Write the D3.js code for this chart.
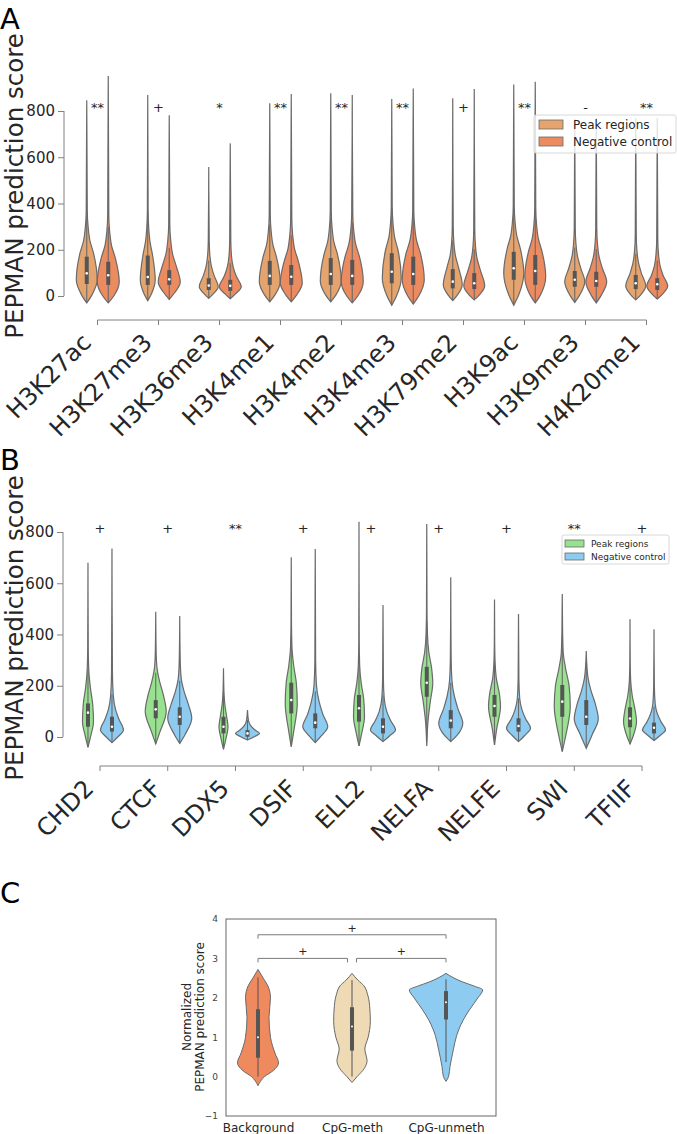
<!DOCTYPE html>
<html><head><meta charset="utf-8">
<script src="https://cdn.jsdelivr.net/npm/d3@7"></script>
<style>body{margin:0;background:#fff} svg{display:block;font-family:"DejaVu Sans",sans-serif}</style>
</head><body><svg id="c" width="677" height="1134"></svg>
<script>
// ---------------- DATA ----------------
// Panel A: histone marks
const marksA = ["H3K27ac","H3K27me3","H3K36me3","H3K4me1","H3K4me2","H3K4me3","H3K79me2","H3K9ac","H3K9me3","H4K20me1"];
const groupsA = ["Peak regions","Negative control"];
const sigA = ["**","+","*","**","**","**","+","**","-","**"];
const yTicksA = [0,200,400,600,800];
// density knots [score, relative width]
const peakKnotsA = [
  [[-30,0],[5,0.5],[70,1],[185,0.65],[240,0.3],[300,0.13],[370,0.05],[847,0]],
  [[-20,0],[10,0.5],[70,1],[175,0.65],[235,0.3],[295,0.13],[370,0.05],[869,0]],
  [[-10,0],[10,0.5],[40,1],[90,0.55],[130,0.27],[175,0.12],[240,0.05],[558,0]],
  [[-25,0],[5,0.5],[62,1],[167,0.65],[222,0.3],[282,0.13],[350,0.05],[833,0]],
  [[-25,0],[5,0.5],[65,1],[179,0.65],[234,0.3],[294,0.13],[365,0.05],[877,0]],
  [[-40,0],[0,0.5],[78,1],[200,0.65],[255,0.3],[315,0.13],[385,0.05],[852,0]],
  [[-20,0],[5,0.5],[48,1],[125,0.6],[175,0.28],[230,0.12],[300,0.05],[855,0]],
  [[-40,0],[5,0.5],[98,1],[206,0.65],[261,0.3],[321,0.13],[390,0.05],[915,0]],
  [[-28,0],[5,0.5],[62,1],[120,0.6],[170,0.28],[225,0.12],[295,0.05],[765,0]],
  [[-17,0],[5,0.5],[43,1],[100,0.55],[145,0.27],[195,0.12],[265,0.05],[770,0]]
];
const negKnotsA = [
  [[-30,0],[0,0.5],[62,1],[163,0.65],[218,0.3],[278,0.13],[350,0.05],[951,0]],
  [[-15,0],[15,0.5],[60,1],[127,0.65],[182,0.3],[242,0.13],[310,0.05],[782,0]],
  [[-12,0],[10,0.5],[40,1],[85,0.55],[125,0.27],[170,0.12],[240,0.05],[660,0]],
  [[-25,0],[5,0.5],[55,1],[149,0.65],[204,0.3],[264,0.13],[335,0.05],[874,0]],
  [[-30,0],[0,0.5],[62,1],[171,0.65],[226,0.3],[286,0.13],[355,0.05],[869,0]],
  [[-35,0],[0,0.5],[70,1],[185,0.65],[240,0.3],[300,0.13],[370,0.05],[897,0]],
  [[-17,0],[5,0.5],[43,1],[110,0.6],[160,0.28],[215,0.12],[290,0.05],[895,0]],
  [[-30,0],[5,0.5],[84,1],[192,0.65],[247,0.3],[307,0.13],[380,0.05],[926,0]],
  [[-30,0],[5,0.5],[62,1],[118,0.6],[168,0.28],[223,0.12],[295,0.05],[770,0]],
  [[-13,0],[8,0.5],[43,1],[90,0.55],[130,0.27],[180,0.12],[250,0.05],[770,0]]
];
// [q1, median, q3]
const peakBoxA = [[52,98,170],[48,82,175],[26,45,77],[48,87,152],[48,95,164],[55,105,185],[33,62,116],[70,120,191],[40,70,108],[30,55,91]];
const negBoxA  = [[48,90,148],[48,72,112],[22,44,70],[48,83,134],[48,87,156],[48,95,170],[30,55,99],[48,108,177],[40,65,105],[26,51,77]];
// relative maximum width of each violin
const peakWidthA = [0.95,0.68,0.86,0.95,0.95,0.86,0.86,0.91,0.91,0.91];
const negWidthA  = [1,1,1,1,1,1,0.95,0.95,0.95,0.95];

// Panel B: transcription-related factors
const factorsB = ["CHD2","CTCF","DDX5","DSIF","ELL2","NELFA","NELFE","SWI","TFIIF"];
const groupsB = ["Peak regions","Negative control"];
const sigB = ["+","+","**","+","+","+","+","**","+"];
const yTicksB = [0,200,400,600,800];
const peakKnotsB = [
  [[-40,0],[0,0.45],[60,1],[130,0.85],[190,0.45],[260,0.15],[350,0.05],[680,0]],
  [[-27,0],[20,0.4],[100,1],[160,0.75],[220,0.35],[270,0.12],[330,0.04],[489,0]],
  [[-48,0],[-10,0.5],[40,1],[80,0.7],[120,0.35],[170,0.12],[268,0]],
  [[-38,0],[20,0.4],[130,1],[210,0.85],[280,0.4],[350,0.12],[450,0.04],[701,0]],
  [[-35,0],[10,0.45],[80,1],[150,0.85],[210,0.4],[280,0.12],[380,0.04],[840,0]],
  [[-35,0],[60,0.2],[140,0.6],[210,1],[270,0.8],[330,0.35],[400,0.12],[500,0.04],[831,0]],
  [[-31,0],[30,0.35],[120,1],[170,0.8],[230,0.3],[290,0.1],[370,0.03],[537,0]],
  [[-57,0],[0,0.4],[120,1],[200,0.85],[270,0.4],[330,0.12],[420,0.04],[558,0]],
  [[-27,0],[5,0.5],[60,1],[110,0.75],[160,0.35],[220,0.1],[300,0.03],[460,0]]
];
const negKnotsB = [
  [[-22,0],[0,0.5],[27,1],[70,0.6],[110,0.3],[160,0.12],[250,0.04],[736,0]],
  [[-25,0],[10,0.45],[73,1],[130,0.7],[180,0.35],[230,0.12],[300,0.04],[472,0]],
  [[-12,0],[2,0.6],[14,1],[28,0.6],[45,0.25],[65,0.08],[105,0]],
  [[-22,0],[5,0.5],[40,1],[90,0.6],[140,0.3],[200,0.1],[300,0.03],[734,0]],
  [[-18,0],[3,0.5],[27,1],[65,0.6],[100,0.3],[150,0.1],[230,0.03],[515,0]],
  [[-18,0],[5,0.5],[53,1],[110,0.6],[160,0.3],[220,0.1],[320,0.03],[623,0]],
  [[-18,0],[5,0.5],[34,1],[70,0.6],[105,0.3],[150,0.1],[230,0.03],[480,0]],
  [[-44,0],[10,0.5],[70,1],[130,0.75],[180,0.4],[230,0.15],[280,0.05],[336,0]],
  [[-14,0],[5,0.5],[27,1],[60,0.6],[90,0.3],[130,0.1],[200,0.03],[420,0]]
];
const peakBoxB = [[40,95,131],[73,108,144],[14,40,79],[92,144,212],[60,112,164],[157,212,274],[79,121,164],[79,138,203],[38,72,116]];
const negBoxB  = [[21,40,79],[47,79,116],[1,14,27],[34,56,92],[14,40,73],[34,64,105],[21,43,73],[47,79,144],[14,36,56]];
const peakWidthB = [0.44,0.84,0.36,0.48,0.44,0.48,0.48,0.64,0.52];
const negWidthB  = [0.92,0.96,0.96,1,1,0.96,0.96,0.96,0.92];

// Panel C: CpG methylation
const categoriesC = ["Background","CpG-meth","CpG-unmeth"];
const yTicksC = [-1,0,1,2,3,4];
const knotsC = [
  [[-0.23,0],[0.0,0.18],[0.15,0.41],[0.35,0.56],[0.6,0.46],[1.0,0.34],[1.5,0.30],[2.0,0.34],[2.3,0.27],[2.5,0.14],[2.72,0]],
  [[-0.15,0],[0.0,0.14],[0.2,0.33],[0.4,0.41],[0.7,0.35],[1.0,0.44],[1.4,0.50],[1.8,0.48],[2.1,0.42],[2.3,0.33],[2.45,0.16],[2.62,0]],
  [[-0.12,0],[0.0,0.07],[0.26,0.11],[0.68,0.20],[1.04,0.29],[1.42,0.46],[1.71,0.65],[2.0,0.87],[2.2,1],[2.3,0.76],[2.4,0.46],[2.5,0.22],[2.62,0]]
];
const boxC = [[0.48,1.0,1.71],[0.66,1.27,1.76],[1.45,1.89,2.17]];
const dataRangeC = [[0.0,2.52],[0.0,2.45],[0.3,2.47]];
const bracketsC = [[0,2,3.6,"+"],[0,1,3.0,"+"],[1,2,3.0,"+"]];

// ---------------- STYLE ----------------
const colorsA = ["#E5A46E","#EC8A60"];
const colorsB = ["#97E18F","#8DCBF0"];
const colorsC = ["#EE8A5E","#EEDAB5","#8DCBF0"];
const outline = "#6a6a6a", boxCol = "#555", spineCol = "#808080", textCol = "#262626";
const sigLevel = 795;

const svg = d3.select("#c");

function violin(g, knots, box, cx, halfW, y, fill, opts) {
  const area = d3.area().curve(d3.curveMonotoneY)
    .y(d => y(d[0])).x0(d => cx - d[1]*halfW).x1(d => cx + d[1]*halfW);
  g.append("path").attr("d", area(knots)).attr("fill", fill)
    .attr("stroke", outline).attr("stroke-width", opts.sw);
  const [q1, med, q3] = box, iqr = q3 - q1;
  const lo = Math.max(opts.min, q1 - 1.5*iqr), hi = Math.min(opts.max, q3 + 1.5*iqr);
  g.append("line").attr("x1", cx).attr("x2", cx).attr("y1", y(lo)).attr("y2", y(hi))
    .attr("stroke", opts.wc).attr("stroke-width", opts.ww);
  g.append("rect").attr("x", cx - opts.bw/2).attr("width", opts.bw)
    .attr("y", y(q3)).attr("height", y(q1) - y(q3)).attr("fill", boxCol);
  g.append("circle").attr("cx", cx).attr("cy", y(med)).attr("r", opts.mr).attr("fill", "#fff");
}

function violinPanel(cfg) {
  const g = svg.append("g");
  const y = d3.scaleLinear().domain([0, 800]).range(cfg.yRange);
  const x = d3.scaleBand().domain(cfg.cats).range(cfg.xRange);
  const hue = d3.scaleBand().domain(cfg.groups).range([-cfg.hueHalf, cfg.hueHalf]);
  const wScale = d3.scaleLinear().domain([0, 1]).range([0, cfg.maxHalf]);
  const center = c => x(c) + x.bandwidth()/2;

  cfg.cats.forEach((c, i) => {
    [[cfg.peakKnots, cfg.peakBox, cfg.peakWidth], [cfg.negKnots, cfg.negBox, cfg.negWidth]].forEach((s, h) => {
      const knots = s[0][i];
      const cx = center(c) + hue(cfg.groups[h]) + hue.bandwidth()/2;
      violin(g, knots, s[1][i], cx, wScale(s[2][i]), y, cfg.colors[h],
        {sw: 1.2, ww: 1.1, wc: outline, bw: 4, mr: 1.3, min: knots[0][0], max: knots[knots.length-1][0]});
    });
  });

  // significance marks
  g.selectAll("text.sig").data(cfg.sig).join("text").attr("class", "sig")
    .attr("x", (d, i) => center(cfg.cats[i])).attr("y", y(sigLevel))
    .attr("text-anchor", "middle").attr("font-size", 13).attr("fill", textCol).text(d => d);

  // y axis
  const ya = g.append("g").attr("transform", `translate(${cfg.yAxisX},0)`)
    .call(d3.axisLeft(y).tickValues(cfg.yTicks).tickSize(6).tickPadding(3));
  ya.select(".domain").remove();
  ya.append("line").attr("y1", y(cfg.yTicks[0])).attr("y2", y(cfg.yTicks[cfg.yTicks.length-1]))
    .attr("stroke", spineCol);
  ya.selectAll(".tick line").attr("stroke", spineCol);
  ya.selectAll(".tick text").attr("font-size", 15).attr("fill", textCol).attr("font-family", "DejaVu Sans");

  // x axis
  const xa = g.append("g").attr("transform", `translate(0,${cfg.xAxisY})`)
    .call(d3.axisBottom(x).tickSize(5));
  xa.select(".domain").remove();
  xa.append("line").attr("x1", center(cfg.cats[0])).attr("x2", center(cfg.cats[cfg.cats.length-1]))
    .attr("stroke", spineCol);
  xa.selectAll(".tick line").attr("stroke", spineCol);
  xa.selectAll(".tick text").attr("x", 0).attr("y", 0).attr("dy", null)
    .attr("text-anchor", "end").attr("transform", "translate(-5,24) rotate(-45)")
    .attr("font-size", 24).attr("fill", textCol).attr("font-family", "DejaVu Sans");

  // y label
  g.append("text").attr("transform", `translate(23,${cfg.yLabelY}) rotate(-90)`)
    .attr("text-anchor", "middle").attr("font-size", 24.5).attr("fill", textCol)
    .text("PEPMAN prediction score");

  // legend
  const L = cfg.legend;
  const lg = g.append("g").attr("transform", `translate(${L.x},${L.y})`);
  lg.append("rect").attr("width", L.w).attr("height", L.h).attr("rx", 2)
    .attr("fill", "#fff").attr("fill-opacity", 0.8).attr("stroke", "#d8d8d8");
  cfg.groups.forEach((gr, h) => {
    lg.append("rect").attr("x", L.px).attr("y", L.py + h*L.row).attr("width", L.pw).attr("height", L.ph)
      .attr("fill", cfg.colors[h]).attr("stroke", outline).attr("stroke-width", 0.8);
    lg.append("text").attr("x", L.tx).attr("y", L.py + h*L.row + L.ph/2).attr("dy", "0.35em")
      .attr("font-size", L.fs).attr("fill", textCol).text(gr);
  });

  // panel letter
  svg.append("text").attr("x", 0).attr("y", cfg.letterY).attr("font-size", 29).attr("fill", "#000").text(cfg.letter);
}

violinPanel({
  letter: "A", letterY: 29,
  cats: marksA, groups: groupsA, sig: sigA, yTicks: yTicksA, colors: colorsA,
  peakKnots: peakKnotsA, negKnots: negKnotsA, peakBox: peakBoxA, negBox: negBoxA,
  peakWidth: peakWidthA, negWidth: negWidthA,
  yRange: [296, 111], xRange: [67, 677], hueHalf: 21.5, maxHalf: 11,
  yAxisX: 64, xAxisY: 320, yLabelY: 186,
  legend: {x: 534, y: 115, w: 142, h: 38, px: 5, py: 5, pw: 24, ph: 9, row: 17, tx: 39, fs: 12}
});

violinPanel({
  letter: "B", letterY: 470,
  cats: factorsB, groups: groupsB, sig: sigB, yTicks: yTicksB, colors: colorsB,
  peakKnots: peakKnotsB, negKnots: negKnotsB, peakBox: peakBoxB, negBox: negBoxB,
  peakWidth: peakWidthB, negWidth: negWidthB,
  yRange: [737, 532], xRange: [66.1, 675.9], hueHalf: 24, maxHalf: 12.5,
  yAxisX: 63, xAxisY: 766, yLabelY: 628,
  legend: {x: 562, y: 535, w: 107, h: 29, px: 3, py: 5, pw: 19, ph: 7, row: 13, tx: 29, fs: 9}
});

// ---------------- PANEL C ----------------
(function () {
  const g = svg.append("g");
  const y = d3.scaleLinear().domain([-1, 4]).range([1116, 919]);
  const x = d3.scalePoint().domain(categoriesC).range([258, 446]);
  const wScale = d3.scaleLinear().domain([0, 1]).range([0, 36.7]);

  categoriesC.forEach((c, i) => {
    violin(g, knotsC[i], boxC[i], x(c), wScale(1), y, colorsC[i],
      {sw: 1, ww: 1, wc: boxCol, bw: 4, mr: 1, min: dataRangeC[i][0], max: dataRangeC[i][1]});
  });

  // frame
  g.append("rect").attr("x", 226).attr("y", y(4)).attr("width", 270).attr("height", y(-1) - y(4))
    .attr("fill", "none").attr("stroke", "#666").attr("stroke-width", 1);

  const ya = g.append("g").attr("transform", "translate(226,0)")
    .call(d3.axisLeft(y).tickValues(yTicksC).tickFormat(d3.format("d")).tickSize(0).tickPadding(8));
  ya.select(".domain").remove();
  ya.selectAll(".tick text").attr("font-size", 9).attr("fill", "#444").attr("font-family", "DejaVu Sans");

  const xa = g.append("g").attr("transform", "translate(0,1116)")
    .call(d3.axisBottom(x).tickSize(0).tickPadding(7));
  xa.select(".domain").remove();
  xa.selectAll(".tick text").attr("font-size", 12).attr("fill", textCol).attr("font-family", "DejaVu Sans");

  // brackets
  bracketsC.forEach(([a, b, lvl, s]) => {
    const x0 = x(categoriesC[a]) + (a === 1 ? 4.5 : 0);
    const x1 = x(categoriesC[b]) - (b === 1 ? 4.5 : 0);
    g.append("path").attr("d", `M${x0},${y(lvl) + 4}V${y(lvl)}H${x1}V${y(lvl) + 4}`)
      .attr("fill", "none").attr("stroke", "#7a7a7a").attr("stroke-width", 1);
    g.append("text").attr("x", (x0 + x1) / 2).attr("y", y(lvl) - 3).attr("text-anchor", "middle")
      .attr("font-size", 11).attr("fill", textCol).text(s);
  });

  // y label
  const yl = g.append("text").attr("transform", "translate(191,1017) rotate(-90)")
    .attr("text-anchor", "middle").attr("font-size", 12).attr("fill", textCol);
  yl.append("tspan").attr("x", 0).attr("y", 0).text("Normalized");
  yl.append("tspan").attr("x", 0).attr("y", 13).text("PEPMAN prediction score");

  svg.append("text").attr("x", 0).attr("y", 903).attr("font-size", 29).attr("fill", "#000").text("C");
})();
</script></body></html>
